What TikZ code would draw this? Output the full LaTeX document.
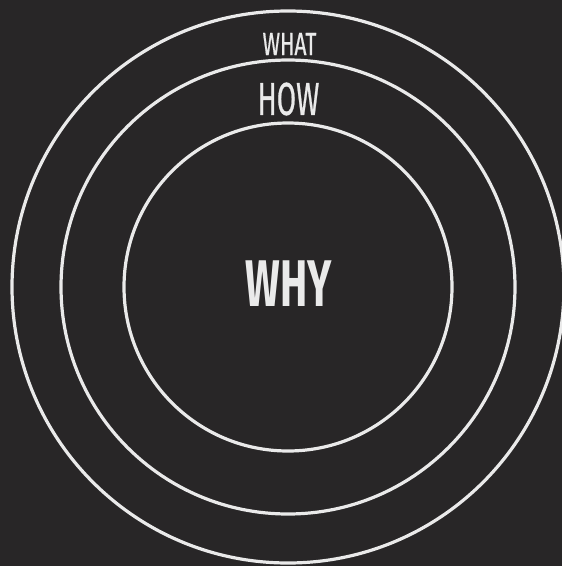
\documentclass[tikz,border=0pt]{standalone}
\usepackage{fontspec}
\setmainfont{Fira Sans}
\newfontfamily\medfont[FakeBold=0.8]{Fira Sans}
\definecolor{bg}{HTML}{282627}
\definecolor{fg}{HTML}{EAEAEA}
\begin{document}
\begin{tikzpicture}[x=1pt,y=-1pt,
  ring/.style={draw=fg,line width=3.2pt},
  lbl/.style={text=fg,inner sep=0pt,anchor=center}]
\fill[bg] (0,0) rectangle (562,566);
\useasboundingbox (0,0) rectangle (562,566);
\coordinate (c) at (288,287);
\draw[ring] (c) circle[radius=276];
\draw[ring] (c) circle[radius=227];
\draw[ring] (c) circle[radius=164];
\node[lbl] (what) at (289.5,44) {\scalebox{0.66}[1]{\fontsize{32}{32}\medfont WHAT}};
\node[lbl] (how) at (288.5,99) {\scalebox{0.61}[1]{\fontsize{46}{46}\medfont HOW}};
\node[lbl] (why) at (288.5,284) {\scalebox{0.62}[1]{\fontsize{66}{66}\selectfont\bfseries WHY}};
\end{tikzpicture}
\end{document}
